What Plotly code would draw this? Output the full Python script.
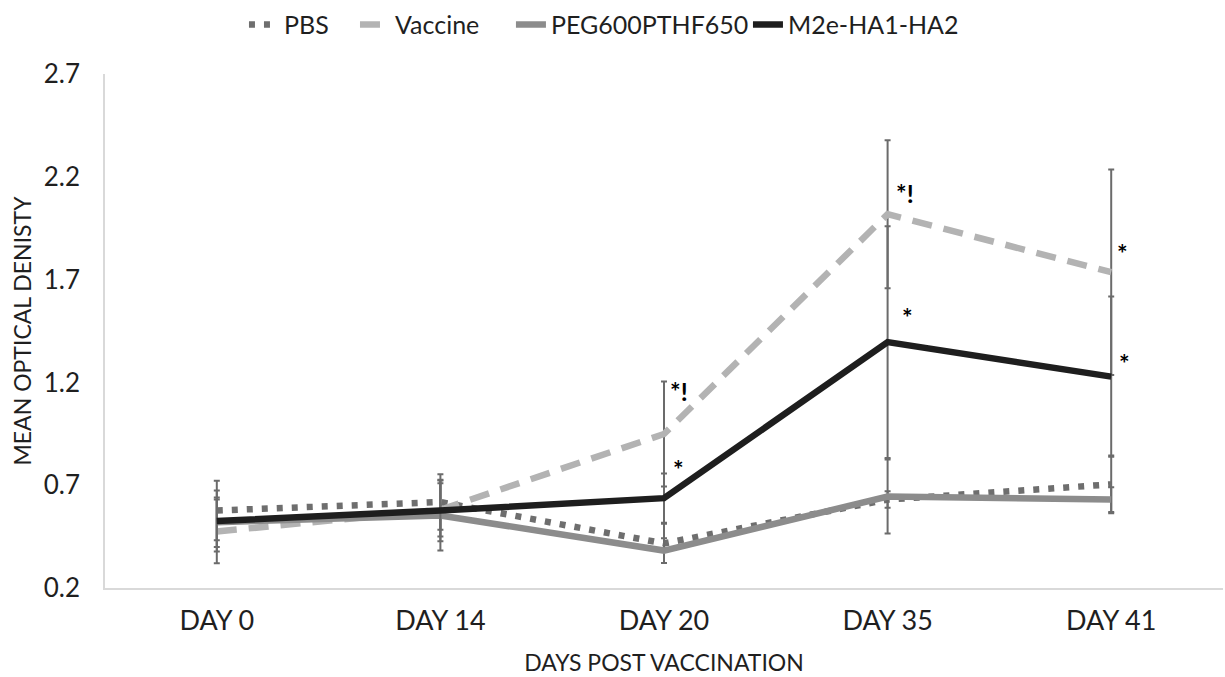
import plotly.graph_objects as go

days = ["DAY 0", "DAY 14", "DAY 20", "DAY 35", "DAY 41"]

pbs = [0.577, 0.618, 0.417, 0.63, 0.704]
pbs_err = [0.145, 0.135, 0.095, 0.04, 0.14]

vaccine = [0.475, 0.58, 0.949, 2.018, 1.736]
vaccine_err = [0.155, 0.13, 0.255, 0.36, 0.50]

peg = [0.52, 0.553, 0.382, 0.645, 0.63]
peg_err = [0.12, 0.17, 0.06, 0.18, 0.06]

m2e = [0.526, 0.577, 0.637, 1.396, 1.228]
m2e_err = [0.148, 0.15, 0.12, 0.564, 0.39]

# significance markers: (category, y value, text, x shift in px)
marks_day = ["DAY 20", "DAY 20", "DAY 35", "DAY 35", "DAY 41", "DAY 41"]
marks_y = [1.158, 0.78, 2.12, 1.517, 1.828, 1.292]
marks_text = ["*!", "*", "*!", "*", "*", "*"]
marks_shift = [4, 7, 6, 12, 4, 6]

FONT = "Lato"
TXT = "#1f1f1f"
ERR = "#6b6b6b"

series = [
    ("PBS", pbs, pbs_err, "#6e6e6e", "6px,9px", "legend", 0.1243),
    ("Vaccine", vaccine, vaccine_err, "#b3b3b3", "20px,12px", "legend2", 0.2236),
    ("PEG600PTHF650", peg, peg_err, "#8c8c8c", "solid", "legend3", 0.3631),
    ("M2e-HA1-HA2", m2e, m2e_err, "#1e1e1e", "solid", "legend4", 0.5751),
]

fig = go.Figure()
for name, vals, errs, color, dash, leg, _ in series:
    fig.add_trace(go.Scatter(
        x=days, y=vals, name=name, mode="lines", legend=leg,
        line=dict(color=color, width=6.5, dash=dash),
        error_y=dict(type="data", array=errs, visible=True,
                     color=ERR, thickness=2, width=3),
    ))

for d, yv, t, s in zip(marks_day, marks_y, marks_text, marks_shift):
    fig.add_annotation(x=d, y=yv, text="<b>%s</b>" % t, showarrow=False,
                       xanchor="left", yanchor="middle", xshift=s,
                       font=dict(family=FONT, size=25, color="#000000"))

legends = {}
for _, _, _, _, _, leg, lx in series:
    legends[leg] = dict(orientation="h", x=lx, xanchor="left", y=1.0956,
                        yanchor="middle", bgcolor="rgba(0,0,0,0)",
                        font=dict(family=FONT, size=25, color=TXT),
                        itemwidth=30)

fig.update_layout(
    width=1225, height=677,
    margin=dict(l=105, r=2, t=66, b=89),
    paper_bgcolor="white", plot_bgcolor="white",
    font=dict(family=FONT, size=22, color=TXT),
    showlegend=True,
    xaxis=dict(range=[-0.5, 4.5], showgrid=False, zeroline=False,
               showline=True, linecolor="#d9d9d9", linewidth=1.5,
               ticks="", tickfont=dict(size=27, color=TXT),
               ticklabelstandoff=8,
               title=dict(text="DAYS POST VACCINATION",
                          font=dict(size=23, color=TXT), standoff=20)),
    yaxis=dict(range=[0.2, 2.7], tickvals=[0.2, 0.7, 1.2, 1.7, 2.2, 2.7],
               ticktext=["0.2", "0.7", "1.2", "1.7", "2.2", "2.7"],
               showgrid=False, zeroline=False, showline=True,
               linecolor="#d9d9d9", linewidth=1.5, ticks="",
               ticklabelstandoff=18, tickfont=dict(size=26, color=TXT),
               title=dict(text="MEAN OPTICAL DENISTY",
                          font=dict(size=23, color=TXT), standoff=6)),
    **legends,
)

fig.write_html("out.html")
